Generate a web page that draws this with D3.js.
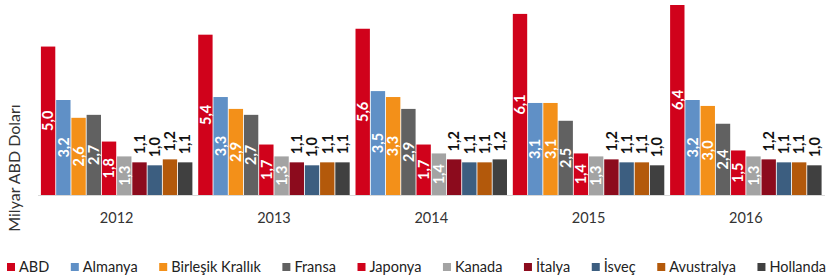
<!DOCTYPE html>
<html><head><meta charset="utf-8">
<script src="https://cdn.jsdelivr.net/npm/d3@7"></script>
<style>body{margin:0;background:#fff}svg{display:block;font-family:Lato,"Open Sans",sans-serif}</style>
</head><body><svg id="c" width="828" height="278"></svg>
<script>
const years = ["2012","2013","2014","2015","2016"];
const countries = ["ABD","Almanya","Birleşik Krallık","Fransa","Japonya","Kanada","İtalya","İsveç","Avustralya","Hollanda"];
const colors = ["#D0021B","#6090C6","#F39019","#616161","#D0021B","#A3A3A3","#8C0B1D","#3C5E80","#B3590B","#404040"];
const ABD = [5.0,5.4,5.6,6.1,6.4];
const Almanya = [3.2,3.3,3.5,3.1,3.2];
const BirlesikKrallik = [2.6,2.9,3.3,3.1,3.0];
const Fransa = [2.7,2.7,2.9,2.5,2.4];
const Japonya = [1.8,1.7,1.7,1.4,1.5];
const Kanada = [1.3,1.3,1.4,1.3,1.3];
const Italya = [1.1,1.1,1.2,1.2,1.2];
const Isvec = [1.0,1.0,1.1,1.1,1.1];
const Avustralya = [1.2,1.1,1.1,1.1,1.1];
const Hollanda = [1.1,1.1,1.2,1.0,1.0];
const seriesValues = [ABD,Almanya,BirlesikKrallik,Fransa,Japonya,Kanada,Italya,Isvec,Avustralya,Hollanda];
const yTitle = "Milyar ABD Doları";

const svg = d3.select("#c");
const x0 = d3.scaleBand().domain(years).range([38,824.5]).paddingInner(0.037).paddingOuter(0.0185);
const x1 = d3.scaleBand().domain(countries).range([0,x0.bandwidth()]).paddingInner(0.056);
const y = d3.scaleLinear().domain([0,6.4]).range([195,5]);
const fmt = v => d3.format(".1f")(v).replace(".",",");

// baseline
svg.append("line").attr("x1",38).attr("x2",825).attr("y1",y(0)+0.5).attr("y2",y(0)+0.5).attr("stroke","#d9d9d9").attr("stroke-width",1);

const data = [];
years.forEach((yr,i)=>countries.forEach((c,j)=>data.push({yr,c,j,v:seriesValues[j][i]})));

const g = svg.append("g");
g.selectAll("rect").data(data).join("rect")
  .attr("x",d=>x0(d.yr)+x1(d.c)).attr("width",x1.bandwidth())
  .attr("y",d=>y(d.v)).attr("height",d=>y(0)-y(d.v))
  .attr("fill",d=>colors[d.j]);

g.selectAll("text.lbl").data(data).join("text").attr("class","lbl")
  .attr("transform",d=>{
    const cx = x0(d.yr)+x1(d.c)+x1.bandwidth()/2;
    const cy = d.v>1.25 ? (y(d.v)+y(0))/2 : y(d.v)-8;
    return `translate(${cx},${cy}) rotate(-90)`;
  })
  .attr("text-anchor",d=>d.v>1.25?"middle":"start")
  .attr("dy","0.36em")
  .attr("font-size",14.5).attr("font-weight",700)
  .attr("fill",d=>d.v>1.25?"#fff":"#111")
  .text(d=>fmt(d.v));

// x axis labels
svg.selectAll("text.yr").data(years).join("text").attr("class","yr")
  .attr("x",d=>x0(d)+x0.bandwidth()/2).attr("y",223)
  .attr("text-anchor","middle").attr("font-size",14.5).attr("fill","#333").text(d=>d);

// y title
svg.append("text").attr("transform","translate(20,168) rotate(-90)")
  .attr("text-anchor","middle").attr("font-size",16).attr("fill","#333").text(yTitle);

// legend
const lg = svg.append("g");
const items = lg.selectAll("g").data(countries).join("g");
items.append("rect").attr("width",8).attr("height",8).attr("y",263).attr("fill",(d,i)=>colors[i]);
const texts = items.append("text").attr("x",12).attr("y",272).attr("font-size",14.5).attr("fill","#222").text(d=>d);
const widths = [];
texts.each(function(){widths.push(this.getComputedTextLength()+12);});
const total = d3.sum(widths);
const gap = (826 - 7 - total)/(countries.length-1);
let xp = 7;
items.attr("transform",(d,i)=>{const t=`translate(${xp},0)`; xp += widths[i]+gap; return t;});
</script></body></html>
